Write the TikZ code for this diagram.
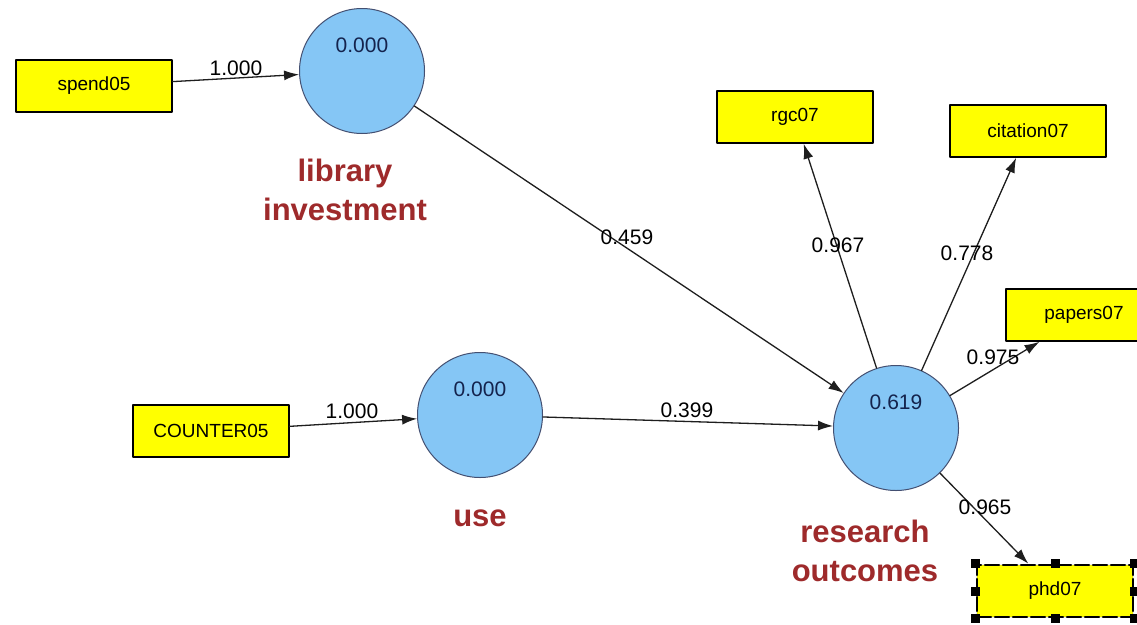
\documentclass[tikz,border=0pt]{standalone}
\usepackage{fontspec}
\setmainfont{Liberation Sans}
\usetikzlibrary{arrows.meta,positioning}
\definecolor{plsYellow}{HTML}{FFFF00}
\definecolor{plsBlue}{HTML}{85C6F5}
\definecolor{plsNavy}{HTML}{14234D}
\definecolor{plsRed}{HTML}{9E2A2B}
\definecolor{plsEdge}{HTML}{1E1E1E}
\begin{document}
\begin{tikzpicture}[x=1pt,y=-1pt,>=Latex,line cap=round,line join=round]
\path[fill=white] (0,0) rectangle (1137,624);
\useasboundingbox (0,0) rectangle (1137,624);
\tikzset{indicator/.style={draw=black,fill=plsYellow,line width=1.5pt,minimum width=156pt,minimum height=52pt,inner sep=0pt,font=\fontsize{19}{22}\selectfont},latent/.style={circle,draw=plsNavy!80,fill=plsBlue,line width=1pt,minimum size=125pt,inner sep=0pt},path/.style={draw=plsEdge,line width=1.3pt,-{Latex[length=15pt,width=10pt]}},weight/.style={font=\fontsize{21}{24}\selectfont,text=black,inner sep=0pt},rsq/.style={font=\fontsize{21}{24}\selectfont,text=plsNavy,inner sep=0pt},lvname/.style={font=\fontsize{31}{39}\selectfont\bfseries,text=plsRed,align=center}}
\node[latent] (lib) at (362,71) {};
\node[latent] (use) at (480,415) {};
\node[latent] (res) at (896,428) {};
\node[rsq] (librsq) at (362,45) {0.000};
\node[rsq] (usersq) at (480,389) {0.000};
\node[rsq] (resrsq) at (896,402) {0.619};
\node[lvname] (libname) at (345,190) {library\\investment};
\node[lvname] (usename) at (480,518) {use};
\node[lvname] (resname) at (865,551) {research\\outcomes};
\node[indicator] (spend) at (94,86) {spend05};
\node[indicator] (counter) at (211,431) {COUNTER05};
\node[indicator] (rgc) at (795,117) {rgc07};
\node[indicator] (citation) at (1028,131) {citation07};
\node[indicator] (papers) at (1084,315) {papers07};
\node[indicator,dash pattern=on 14pt off 4pt,line width=2.8pt] (phd) at (1055,591) {phd07};
\foreach \a in {north west,north,north east,west,east,south west,south,south east}
  \fill (phd.\a) +(-4.5,-4.5) rectangle +(4.5,4.5);
\draw[path] (spend) -- (lib);
\draw[path] (counter) -- (use);
\draw[path] (lib) -- (res);
\draw[path] (use) -- (res);
\draw[path] (res) -- (rgc);
\draw[path] (res) -- (citation);
\draw[path] (res) -- (papers);
\draw[path] (res) -- (phd);
\node[weight] (wspend) at (236,68) {1.000};
\node[weight] (wcounter) at (352,411) {1.000};
\node[weight] (wlib) at (627,237) {0.459};
\node[weight] (wuse) at (687,410) {0.399};
\node[weight] (wrgc) at (838,245) {0.967};
\node[weight] (wcitation) at (967,253) {0.778};
\node[weight] (wpapers) at (993,357) {0.975};
\node[weight] (wphd) at (985,507) {0.965};
\end{tikzpicture}
\end{document}
